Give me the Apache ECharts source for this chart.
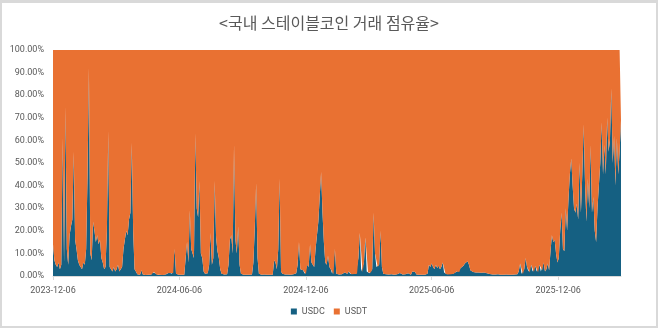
<!DOCTYPE html>
<html>
<head>
<meta charset="utf-8">
<script src="https://cdn.jsdelivr.net/npm/echarts@6/dist/echarts.min.js"></script>
<style>
html,body{margin:0;padding:0;background:#fff;}
#chart{width:658px;height:328px;box-sizing:border-box;border:2px solid #d9d9d9;border-top-width:3px;}
</style>
</head>
<body>
<div id="chart"></div>
<script>
// Series: one value every 2 days starting at startDate (USDC share, %)
const startDate = '2023-12-06';
const stepDays = 2;
const tickDates = ['2023-12-06', '2024-06-06', '2024-12-06', '2025-06-06', '2025-12-06'];
const endDate = '2026-03-07';
const seriesNames = ['USDC', 'USDT'];
const usdc = [
  14, 7, 5, 4, 6, 3, 5, 61, 6, 75,
  12, 5, 18, 22, 25, 55, 16, 12, 7, 5,
  4, 3, 6, 5, 12, 45, 92, 10, 7, 24,
  20, 15, 18, 14, 16, 8, 6, 3, 4, 20,
  64, 4, 3, 2, 4, 2, 3, 5, 2, 3,
  4, 12, 16, 20, 18, 25, 28, 59, 20, 3,
  2, 0.8, 0.5, 0.6, 2.5, 0.7, 0.5, 0.4, 0.5, 0.6,
  0.5, 0.6, 1.5, 1.8, 1.2, 0.6, 0.4, 0.5, 0.6, 0.4,
  0.5, 0.6, 0.8, 1.2, 1.5, 1.3, 1.0, 1.2, 12, 1,
  0.6, 0.5, 0.4, 0.5, 0.6, 0.5, 8, 15, 6, 29,
  12, 10, 8, 63, 30, 26, 42, 10, 8, 2,
  1, 0.8, 1.2, 5, 19, 5, 8, 42, 17, 11,
  8, 3, 1, 0.8, 0.7, 1, 0.8, 5, 16, 18,
  10, 58, 16, 10, 22, 5, 1, 0.7, 0.6, 0.7,
  0.6, 0.7, 0.6, 0.8, 0.7, 6, 21, 41, 8, 1,
  0.8, 0.6, 0.5, 0.7, 0.6, 0.5, 0.7, 0.6, 0.5, 0.6,
  7, 6, 3, 12, 43, 2, 1, 0.8, 0.7, 0.6,
  0.7, 1, 0.6, 1.4, 0.8, 0.7, 1.2, 5, 15, 3,
  3, 2.5, 1, 0.8, 5, 4, 14, 6, 5, 4,
  12, 18, 24, 35, 46, 28, 15, 6, 5, 9,
  4, 3, 1, 0.8, 12, 1, 0.8, 0.7, 1, 0.8,
  1, 1.5, 0.8, 1, 2, 1, 0.8, 1.2, 0.9, 1,
  1, 8, 19, 2, 1.5, 6, 17, 2, 1.5, 1.2,
  1.5, 3, 28, 10, 4, 4, 5, 20, 4, 1,
  1, 0.8, 0.9, 0.7, 1, 0.8, 0.7, 0.6, 0.7, 0.8,
  0.7, 1.3, 0.6, 0.7, 1.4, 0.8, 0.6, 1.2, 0.7, 0.6,
  2, 2.2, 1.8, 0.7, 0.6, 0.5, 0.7, 0.6, 0.5, 0.6,
  0.6, 1, 5, 4, 5.5, 4, 3, 5, 3.5, 4.5,
  3, 4, 6, 1.5, 1, 0.8, 0.7, 1, 0.8, 0.9,
  1, 1.5, 2, 2.2, 1.8, 3.5, 4, 4.5, 5.5, 6,
  6.5, 5, 2.5, 2, 1.8, 2, 1.6, 1.4, 1.5, 1.3,
  1.4, 1.2, 1.5, 1.3, 1.2, 1, 0.9, 0.8, 0.7, 0.8,
  0.7, 0.6, 0.8, 0.7, 0.6, 0.7, 0.5, 0.6, 0.7, 0.6,
  0.6, 0.7, 0.5, 0.6, 0.7, 0.6, 0.8, 2, 5.5, 1,
  0.8, 3, 8, 4, 2, 1.5, 5, 2, 1.8, 4.5,
  2, 1.5, 5, 2, 2.5, 6, 2, 3, 5.5, 2.5,
  11, 18, 15, 16, 10, 6, 8, 20, 28, 12,
  11, 30, 20, 34, 45, 52, 40, 30, 28, 32,
  25, 50, 28, 45, 67, 40, 24, 43, 30, 58,
  28, 35, 20, 15, 30, 40, 50, 68, 45, 58,
  45, 70, 55, 60, 83, 50, 62, 40, 61, 45,
  55, 69
];
// USDT share is the complement of the USDC share (two-coin market share)
const usdt = usdc.map(v => Math.round((100 - v) * 100) / 100);

function toTime(s) {
  const p = s.split('-').map(Number);
  return new Date(p[0], p[1] - 1, p[2]).getTime();
}
function fmtDate(t) {
  const d = new Date(Math.round(t));
  const pad = n => (n < 10 ? '0' : '') + n;
  return d.getFullYear() + '-' + pad(d.getMonth() + 1) + '-' + pad(d.getDate());
}
const dates = usdc.map((_, i) => {
  const p = startDate.split('-').map(Number);
  return new Date(p[0], p[1] - 1, p[2] + i * stepDays).getTime();
});
const tickValues = tickDates.map(toTime);

const chart = echarts.init(document.getElementById('chart'), null, {renderer: 'canvas'});
const font = 'Roboto, "Noto Sans", sans-serif';
chart.setOption({
  animation: false,
  backgroundColor: '#ffffff',
  title: {
    text: '<국내 스테이블코인 거래 점유율>',
    left: 'center',
    top: 7,
    textStyle: {fontFamily: '"Noto Sans CJK KR", sans-serif', fontSize: 16, fontWeight: 'normal', color: '#595959'}
  },
  legend: {
    bottom: 5,
    left: 'center',
    data: seriesNames,
    icon: 'rect',
    itemWidth: 6,
    itemHeight: 6,
    itemGap: 9,
    textStyle: {fontFamily: font, fontSize: 9, color: '#595959'}
  },
  grid: {left: 51, right: 35, top: 47, bottom: 50, containLabel: false},
  xAxis: [
    {
      // time scale that positions the data
      type: 'time',
      min: toTime(startDate),
      max: toTime(endDate),
      axisLine: {show: false},
      axisTick: {show: false},
      axisLabel: {show: false},
      splitLine: {show: false}
    },
    {
      // same extent, used only to draw the dated ticks and labels
      type: 'value',
      position: 'bottom',
      min: toTime(startDate),
      max: toTime(endDate),
      axisLine: {show: true, onZero: false, lineStyle: {color: '#d9d9d9', width: 1}},
      axisTick: {show: true, customValues: tickValues, length: 4, lineStyle: {color: '#d9d9d9'}},
      axisLabel: {
        customValues: tickValues,
        formatter: v => fmtDate(v),
        fontFamily: font, fontSize: 9, color: '#595959', margin: 10,
        showMinLabel: true, showMaxLabel: true, hideOverlap: false
      },
      splitLine: {show: false}
    }
  ],
  yAxis: {
    type: 'value',
    min: 0, max: 100, interval: 10,
    axisLine: {show: false},
    axisTick: {show: false},
    splitLine: {show: false},
    axisLabel: {formatter: v => v.toFixed(2) + '%', fontFamily: font, fontSize: 9, color: '#595959', margin: 9}
  },
  series: [
    {
      name: seriesNames[0], type: 'line', stack: 'share', symbol: 'none', smooth: false,
      xAxisIndex: 0,
      data: dates.map((t, i) => [t, usdc[i]]),
      lineStyle: {width: 0}, areaStyle: {color: '#156082', opacity: 1},
      itemStyle: {color: '#156082'}, emphasis: {disabled: true}
    },
    {
      name: seriesNames[1], type: 'line', stack: 'share', symbol: 'none', smooth: false,
      xAxisIndex: 0,
      data: dates.map((t, i) => [t, usdt[i]]),
      lineStyle: {width: 0}, areaStyle: {color: '#E97132', opacity: 1},
      itemStyle: {color: '#E97132'}, emphasis: {disabled: true}
    }
  ]
});
</script>
</body>
</html>
